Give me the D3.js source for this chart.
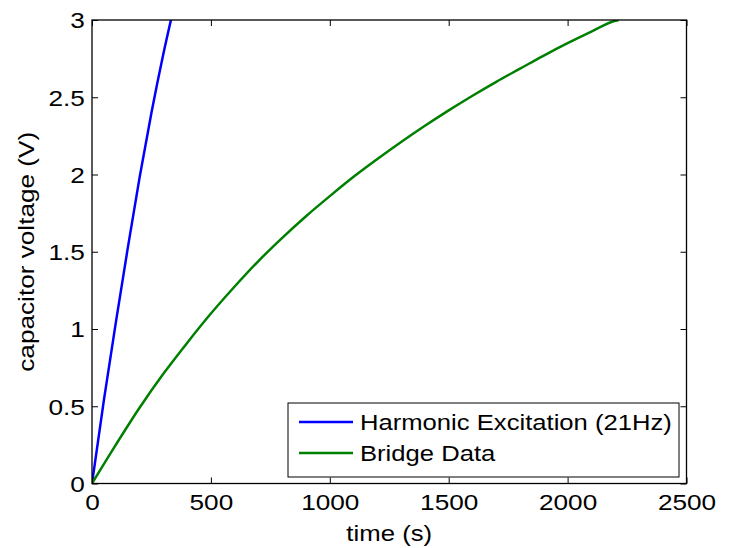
<!DOCTYPE html>
<html>
<head>
<meta charset="utf-8">
<script src="https://cdn.jsdelivr.net/npm/d3@7"></script>
<style>
	body { margin: 0; background: #fff; }
	text { font-family: "Liberation Sans", Arial, sans-serif; fill: #000; }
</style>
</head>
<body>
<script>
// values
var harmonicT = [0, 50, 100, 150, 200, 250, 300, 350];
var harmonicV = [0, 0.54, 1.04, 1.52, 1.98, 2.4, 2.78, 3.12];

var bridgeT = [0, 100, 200, 300, 400, 500, 600, 700, 800, 900, 1000, 1100, 1200,
	1300, 1400, 1500, 1600, 1700, 1800, 1900, 2000, 2100, 2200, 2215];
var bridgeV = [0, 0.25, 0.49, 0.71, 0.91, 1.1, 1.275, 1.44, 1.59, 1.73, 1.86, 1.985, 2.1,
	2.21, 2.315, 2.415, 2.51, 2.6, 2.685, 2.77, 2.85, 2.925, 2.995, 3.0];

var seriesNames = ["Harmonic Excitation (21Hz)", "Bridge Data"];
var seriesColors = ["#0000ff", "#008000"];

var xTicks = [0, 500, 1000, 1500, 2000, 2500];
var yTicks = [0, 0.5, 1, 1.5, 2, 2.5, 3];
var yTickLabels = ["0", "0.5", "1", "1.5", "2", "2.5", "3"];

var width = 734, height = 548;
var plotLeft = 92, plotRight = 686.5, plotTop = 20, plotBottom = 483.5;
var fontSize = "22px";
var stretch = 1.19;   // the text in the picture is wide

var svg = d3.select("body").append("svg")
	.attr("width", width)
	.attr("height", height);

var x = d3.scaleLinear().domain([0, 2500]).range([plotLeft, plotRight]);
var y = d3.scaleLinear().domain([0, 3]).range([plotBottom, plotTop]);

/*************************************************/
// clip + lines
svg.append("clipPath").attr("id", "plotclip")
	.append("rect")
	.attr("x", plotLeft).attr("y", plotTop)
	.attr("width", plotRight - plotLeft).attr("height", plotBottom - plotTop);

var line = d3.line()
	.curve(d3.curveMonotoneX)
	.x(function (d) { return x(d[0]) })
	.y(function (d) { return y(d[1]) });

var series = [
	harmonicT.map(function (t, i) { return [t, harmonicV[i]] }),
	bridgeT.map(function (t, i) { return [t, bridgeV[i]] })
];

svg.append("g").attr("clip-path", "url(#plotclip)")
	.selectAll(".line")
	.data(series)
	.enter().append("path")
	.attr("class", "line")
	.attr("d", line)
	.style("fill", "none")
	.style("stroke", function (d, i) { return seriesColors[i] })
	.style("stroke-width", 2.5)
	.style("stroke-linejoin", "round");

/*************************************************/
// axes (ticks inward, box on)
var gx = svg.append("g")
	.attr("transform", "translate(0," + plotBottom + ")")
	.call(d3.axisBottom(x).tickValues(xTicks).tickFormat(d3.format("d"))
		.tickSize(-6).tickSizeOuter(0).tickPadding(11));
gx.selectAll("text")
	.style("font-size", fontSize)
	.attr("transform", "scale(" + stretch + ",1)");

var gy = svg.append("g")
	.attr("transform", "translate(" + plotLeft + ",0)")
	.call(d3.axisLeft(y).tickValues(yTicks)
		.tickFormat(function (d, i) { return yTickLabels[i] })
		.tickSize(-6).tickSizeOuter(0).tickPadding(6));
gy.selectAll("text")
	.style("font-size", fontSize)
	.attr("dy", "0.36em")
	.attr("transform", "scale(" + stretch + ",1)");

svg.append("g")
	.attr("transform", "translate(0," + plotTop + ")")
	.call(d3.axisTop(x).tickValues(xTicks).tickFormat("").tickSize(-6).tickSizeOuter(0));
svg.append("g")
	.attr("transform", "translate(" + plotRight + ",0)")
	.call(d3.axisRight(y).tickValues(yTicks).tickFormat("").tickSize(-6).tickSizeOuter(0));

svg.selectAll(".domain").remove();
svg.selectAll(".tick line").style("stroke", "#000").style("stroke-width", 1);

svg.append("rect")
	.attr("x", plotLeft).attr("y", plotTop)
	.attr("width", plotRight - plotLeft).attr("height", plotBottom - plotTop)
	.style("fill", "none")
	.style("stroke", "#000")
	.style("stroke-width", 1.3);

/*************************************************/
// axis titles
svg.append("text")
	.attr("transform", "translate(" + (plotLeft + plotRight) / 2 + ",541) scale(1.17,1)")
	.attr("text-anchor", "middle")
	.style("font-size", fontSize)
	.text("time (s)");

svg.append("text")
	.attr("transform", "translate(34," + (plotTop + plotBottom) / 2 + ") rotate(-90) scale(1.19,1)")
	.attr("text-anchor", "middle")
	.style("font-size", fontSize)
	.text("capacitor voltage (V)");

/*************************************************/
// legend
var legend = svg.append("g").attr("transform", "translate(288,403)");
legend.append("rect")
	.attr("width", 391).attr("height", 74)
	.style("fill", "#fff")
	.style("stroke", "#000")
	.style("stroke-width", 1);

var items = legend.selectAll(".item")
	.data(seriesNames)
	.enter().append("g")
	.attr("class", "item")
	.attr("transform", function (d, i) { return "translate(0," + (19 + i * 31) + ")" });
items.append("line")
	.attr("x1", 11).attr("x2", 65)
	.style("stroke", function (d, i) { return seriesColors[i] })
	.style("stroke-width", 2.5);
items.append("text")
	.attr("transform", "translate(72,0) scale(1.165,1)")
	.attr("dy", "0.36em")
	.style("font-size", fontSize)
	.text(function (d) { return d });
</script>
</body>
</html>
